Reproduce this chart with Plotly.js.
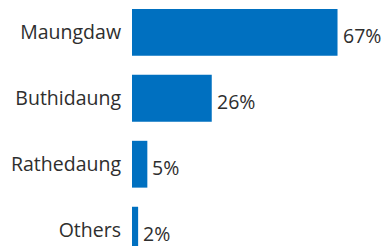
<!DOCTYPE html>
<html>
<head>
<meta charset="utf-8">
<script src="https://cdn.plot.ly/plotly-3.0.1.min.js"></script>
<style>html,body{margin:0;padding:0;background:#fff}#chart{width:382px;height:246px}</style>
</head>
<body>
<div id="chart"></div>
<script>
const categories = ["Maungdaw", "Buthidaung", "Rathedaung", "Others"];
const values = [67, 26, 5, 2];
const valueLabels = ["67%", "26%", "5%", "2%"];

const FONT = "'Open Sans', Lato, sans-serif";
const TXT = "#2e2e2e";

const trace = {
  type: "bar",
  orientation: "h",
  x: values,
  y: categories,
  marker: {color: "#0070c0"},
  hoverinfo: "none"
};

const annotations = categories.map((c, i) => ({
  x: values[i], y: c, xref: "x", yref: "y",
  text: valueLabels[i], showarrow: false,
  xanchor: "left", yanchor: "middle",
  xshift: 3, yshift: -3,
  font: {family: FONT, size: 19.5, color: TXT}
}));

const layout = {
  width: 382, height: 246,
  margin: {l: 132, r: 0, t: 0, b: 0},
  paper_bgcolor: "#ffffff", plot_bgcolor: "#ffffff",
  bargap: 0.29,
  showlegend: false,
  xaxis: {range: [0, 81.5], visible: false, fixedrange: true},
  yaxis: {
    type: "category",
    range: [3.24, -0.49],
    showgrid: false, zeroline: false, showline: false,
    ticks: "", ticklabelstandoff: 10, ticklabelshift: -1.5,
    tickfont: {family: FONT, size: 19.5, color: TXT},
    fixedrange: true
  },
  annotations: annotations
};

Plotly.newPlot("chart", [trace], layout, {displayModeBar: false, staticPlot: true});
</script>
</body>
</html>
